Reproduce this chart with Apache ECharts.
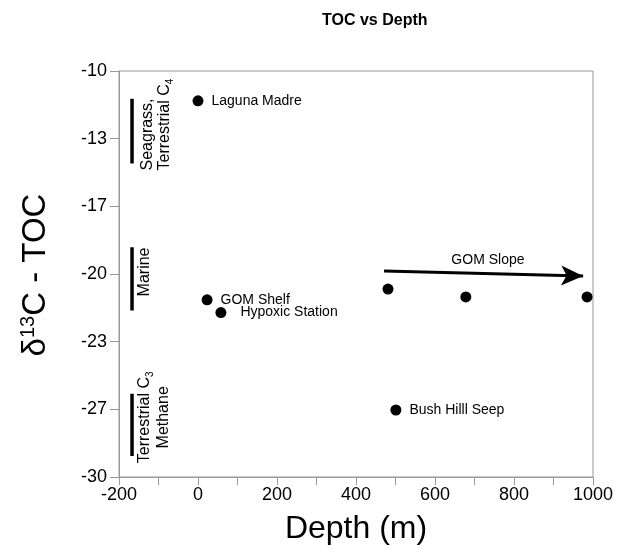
<!DOCTYPE html>
<html><head><meta charset="utf-8">
<script src="https://cdn.jsdelivr.net/npm/echarts@6/dist/echarts.min.js"></script>
<style>html,body{margin:0;padding:0;background:#fff}#c{width:618px;height:550px}</style>
</head><body><div id="c"></div>
<script>
// ---- data ----
const xMin = -200, xMax = 1000, xStep = 200;
const yMin = -30, yMax = -10, yStep = 10 / 3;
const namedSites = ['Laguna Madre', 'GOM Shelf', 'Hypoxic Station', 'Bush Hilll Seep'];
const namedDepth = [0, 23, 58, 501];
const namedD13C = [-11.47, -21.27, -21.9, -26.7];
const slopeDepth = [481, 678, 985];
const slopeD13C = [-20.74, -21.13, -21.13];
const rangeX = -167;
const rangeTop = [-11.37, -18.68, -25.9];
const rangeBottom = [-14.56, -21.8, -28.97];
const arrowFrom = [471, -19.85];
const arrowTo = [975, -20.1];

const FONT = 'Liberation Sans, Arial, sans-serif';
const TXT = '#000';
const AX = '#999';

const chart = echarts.init(document.getElementById('c'), null, {renderer: 'canvas'});

const rangeSeries = rangeTop.map((t, i) => ({
  type: 'line', silent: true, symbol: 'none',
  lineStyle: {color: '#000', width: 3.5},
  data: [[rangeX, t], [rangeX, rangeBottom[i]]]
}));

chart.setOption({
  animation: false,
  backgroundColor: '#fff',
  title: {
    text: 'TOC vs Depth', left: 322, top: 13, padding: 0,
    textStyle: {fontSize: 16, fontWeight: 'bold', color: TXT, fontFamily: FONT}
  },
  grid: {left: 119, right: 25, top: 71, bottom: 71, show: true, borderColor: AX, borderWidth: 1, backgroundColor: 'transparent'},
  xAxis: {
    type: 'value', min: xMin, max: xMax, interval: xStep,
    name: 'Depth (m)', nameLocation: 'middle', nameGap: 36,
    nameTextStyle: {fontSize: 32, color: TXT, fontFamily: FONT},
    axisLine: {show: true, onZero: false, lineStyle: {color: AX, width: 1}},
    axisTick: {show: true, length: 8, lineStyle: {color: AX}},
    minorTick: {show: true, splitNumber: 2, length: 8, lineStyle: {color: AX}},
    splitLine: {show: false},
    axisLabel: {fontSize: 18, color: TXT, fontFamily: FONT, margin: 9, formatter: v => String(v)}
  },
  yAxis: {
    type: 'value', min: yMin, max: yMax, interval: yStep,
    axisLine: {show: true, onZero: false, lineStyle: {color: AX, width: 1}},
    axisTick: {show: true, length: 9, lineStyle: {color: AX}},
    splitLine: {show: false},
    axisLabel: {fontSize: 18, color: TXT, fontFamily: FONT, margin: 12,
      formatter: v => String(Math.round(v))}
  },
  series: [
    {
      type: 'scatter', symbolSize: 11, itemStyle: {color: '#000', opacity: 1}, silent: true,
      data: namedSites.map((n, i) => ({
        value: [namedDepth[i], namedD13C[i]], name: n,
        label: {show: true, position: 'right', distance: n === 'Hypoxic Station' ? 14 : 8,
          formatter: '{b}', fontSize: 14, color: TXT, fontFamily: FONT}
      }))
    },
    {
      type: 'scatter', symbolSize: 11, itemStyle: {color: '#000', opacity: 1}, silent: true,
      data: slopeDepth.map((d, i) => [d, slopeD13C[i]]),
      markLine: {
        silent: true, symbol: ['none', 'arrow'], symbolSize: [15, 22],
        lineStyle: {color: '#000', width: 3, type: 'solid', opacity: 1},
        label: {show: false}, emphasis: {disabled: true},
        data: [[{coord: arrowFrom}, {coord: arrowTo}]]
      }
    }
  ].concat(rangeSeries)
});

function px(x, y) { return chart.convertToPixel({gridIndex: 0}, [x, y]); }
function richFor(lastLH) {
  return {
    n: {fontSize: 16, lineHeight: 18, fontFamily: FONT, color: TXT},
    nt: {fontSize: 16, lineHeight: 18, verticalAlign: 'top', fontFamily: FONT, color: TXT},
    sub: {fontSize: 10, lineHeight: 10, padding: [14, 0, 0, 0], verticalAlign: 'bottom', fontFamily: FONT, color: TXT},
    m2: {fontSize: 16, lineHeight: lastLH, fontFamily: FONT, color: TXT}
  };
}
function rotText(pos, text, align, lastLH) {
  return {
    type: 'text', x: pos[0], y: pos[1], rotation: Math.PI / 2, silent: true,
    style: {text: text, align: align, verticalAlign: 'middle', rich: richFor(lastLH), fill: TXT}
  };
}
const p1 = px(-104, -14.9);
const p2 = px(-134, -19.9);
const p3 = px(-109, -27.06);
const pSlope = px(734, -19.31);

chart.setOption({
  graphic: [
    rotText(p1, '{n|Seagrass,}\n{nt|Terrestrial C}{sub|4}', 'left', 18),
    rotText(p2, '{n|Marine}', 'center', 18),
    rotText(p3, '{nt|Terrestrial C}{sub|3}\n{m2|Methane}', 'center', 18),
    {
      type: 'text', x: pSlope[0], y: pSlope[1], silent: true,
      style: {text: 'GOM Slope', align: 'center', verticalAlign: 'middle', fontSize: 14, fontFamily: FONT, fill: TXT}
    },
    {
      type: 'text', x: 36, y: 275, rotation: Math.PI / 2, silent: true,
      style: {
        text: '{m|δ}{s|13}{m|C - TOC}', align: 'center', verticalAlign: 'middle',
        rich: {
          m: {fontSize: 33, lineHeight: 36, fontFamily: FONT, color: TXT},
          s: {fontSize: 20, lineHeight: 20, verticalAlign: 'top', fontFamily: FONT, color: TXT}
        }
      }
    }
  ]
});
</script></body></html>
